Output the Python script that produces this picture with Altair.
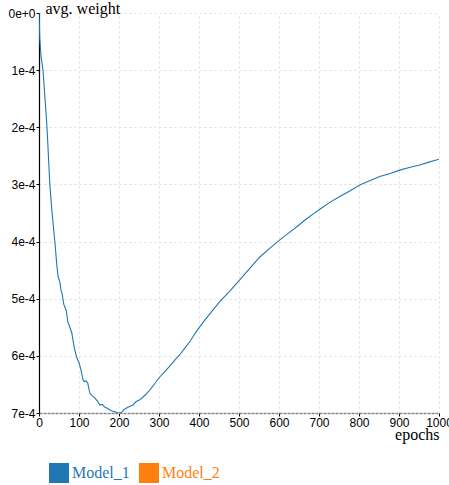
import altair as alt
import pandas as pd

epochs = [0, 2, 5, 10, 15, 20, 27, 32, 40, 45, 48, 52, 55, 58, 62, 65, 68, 72, 77, 82,
          88, 94, 100, 105, 110, 113, 118, 122, 127, 133, 140, 147, 152, 158, 165, 172,
          178, 185, 190, 197, 203, 208, 212, 220, 228, 235, 243, 252, 265, 278, 290,
          302, 315, 328, 340, 352, 365, 378, 390, 400, 415, 430, 452, 478, 502, 528,
          552, 578, 602, 628, 650, 669, 685, 703, 728, 752, 778, 802, 828, 852, 878,
          902, 928, 952, 975, 1000]
weights_e4 = [0, 0.45, 0.75, 1.0, 1.5, 2.0, 2.99, 3.45, 4.03, 4.45, 4.62, 4.70, 4.85,
              4.92, 5.10, 5.15, 5.20, 5.40, 5.50, 5.60, 5.85, 6.02, 6.12, 6.25, 6.42,
              6.45, 6.44, 6.48, 6.65, 6.70, 6.74, 6.80, 6.86, 6.85, 6.90, 6.92, 6.95,
              6.97, 6.98, 7.0, 7.0, 6.98, 6.94, 6.91, 6.88, 6.86, 6.80, 6.77, 6.69,
              6.59, 6.48, 6.37, 6.27, 6.17, 6.07, 5.98, 5.86, 5.74, 5.61, 5.51, 5.37,
              5.24, 5.05, 4.86, 4.67, 4.46, 4.27, 4.11, 3.97, 3.83, 3.71, 3.60, 3.52,
              3.43, 3.31, 3.21, 3.11, 3.01, 2.93, 2.86, 2.81, 2.75, 2.70, 2.66, 2.61,
              2.56]
models = ["Model_1", "Model_2"]
colors = ["#1f77b4", "#ff7f0e"]
x_ticks = [0, 100, 200, 300, 400, 500, 600, 700, 800, 900, 1000]
y_ticks = [0, 1e-4, 2e-4, 3e-4, 4e-4, 5e-4, 6e-4, 7e-4]

df = pd.DataFrame({
    "epoch": epochs,
    "weight": [w * 1e-4 for w in weights_e4],
    "model": models[0],
})

series_color = alt.ExprRef("scale('color', datum.value)")

chart = alt.Chart(df).mark_line(strokeWidth=1.1, clip=True).encode(
    x=alt.X("epoch:Q",
            scale=alt.Scale(domain=[0, 1000], nice=False),
            axis=alt.Axis(values=x_ticks, format="d", title="epochs",
                          titleFont="Liberation Serif",
                          titleFontSize=16, titleFontWeight="normal", titleColor="#000",
                          titleAnchor="end", titleAlign="right", titleBaseline="alphabetic",
                          titleX=400, titleY=26,
                          labelFont="Liberation Sans", labelFontSize=12, labelColor="#000",
                          labelPadding=1, tickSize=3, tickColor="#000",
                          domainColor="#888", domainWidth=1.5, domainDash=[3, 1],
                          gridColor="#ddd", gridDash=[2, 3], labelFlush=False)),
    y=alt.Y("weight:Q",
            scale=alt.Scale(domain=[0, 7e-4], reverse=True, nice=False),
            axis=alt.Axis(values=y_ticks, format=".0e", title="avg. weight",
                          titleFont="Liberation Serif", titleFontSize=16,
                          titleFontWeight="normal", titleColor="#000", titleAngle=0,
                          titleAlign="left", titleBaseline="alphabetic",
                          titleX=6, titleY=0,
                          labelFont="Liberation Sans", labelFontSize=12, labelColor="#000",
                          labelPadding=1, tickSize=3, tickColor="#000",
                          domainColor="#000", domainWidth=1.2,
                          gridColor="#ddd", gridDash=[2, 3])),
    color=alt.Color("model:N",
                    scale=alt.Scale(domain=models, range=colors),
                    legend=alt.Legend(title=None, orient="none", direction="horizontal",
                                      legendX=10, legendY=450,
                                      symbolType="square", symbolSize=400,
                                      symbolFillColor=series_color,
                                      symbolStrokeWidth=0, symbolOpacity=1,
                                      labelFont="Liberation Serif", labelFontSize=16,
                                      labelColor=series_color,
                                      labelOffset=3, columnPadding=9)),
).properties(
    width=400, height=400,
    autosize=alt.AutoSizeParams(type="none"),
    padding={"left": 39, "top": 13, "right": 10, "bottom": 72},
).configure_view(stroke=None)

chart.save("out.html", embed_options={"renderer": "svg", "actions": False})
